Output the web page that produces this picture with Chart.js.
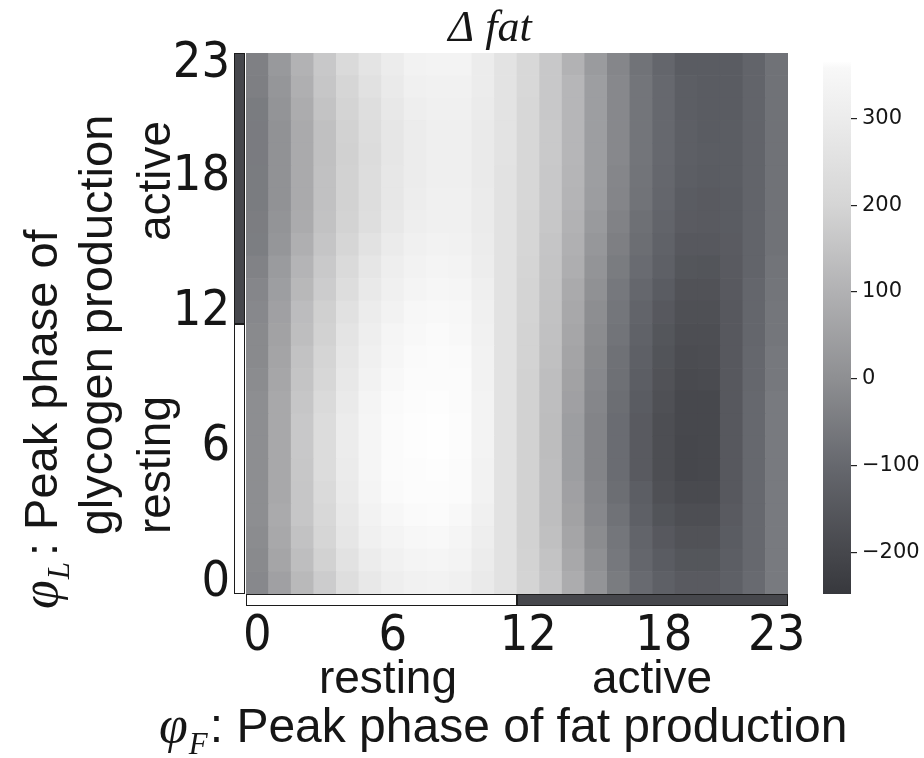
<!DOCTYPE html>
<html>
<head>
<meta charset="utf-8">
<script src="https://cdn.jsdelivr.net/npm/chart.js@4.4.1/dist/chart.umd.min.js"></script>
<style>
  html, body { margin: 0; padding: 0; background: #fff; }
  #wrap { position: relative; width: 924px; height: 758px; }
  #heat { position: absolute; left: 0; top: 0; }
  #bar { position: absolute; left: 800px; top: 0; }
</style>
</head>
<body>
<div id="wrap">
  <canvas id="heat" width="924" height="758"></canvas>
  <canvas id="bar" width="124" height="758"></canvas>
</div>
<script>
// phase hours, used for both axes
var phaseLabels = ['0','1','2','3','4','5','6','7','8','9','10','11','12','13','14','15','16','17','18','19','20','21','22','23'];
var shownTicks = [0, 6, 12, 18, 23];
var colorbarTicks = [-200, -100, 0, 100, 200, 300];
var colorbarMin = -248;
var colorbarMax = 365;

// Δ fat, one array per glycogen phase (φL), columns = fat phase (φF) 0..23
var fatRow0  = [-18, 50, 122, 175, 239, 283, 310, 324, 329, 319, 291, 257, 197, 155, 85, 15, -49, -95, -124, -142, -142, -124, -95, -54];
var fatRow1  = [-13, 65, 136, 192, 257, 300, 324, 339, 343, 334, 300, 257, 195, 150, 74, 3, -59, -106, -136, -155, -155, -130, -100, -54];
var fatRow2  = [-8, 74, 147, 204, 274, 319, 339, 353, 358, 343, 310, 257, 192, 142, 65, -8, -64, -112, -148, -167, -167, -136, -100, -54];
var fatRow3  = [-3, 79, 158, 213, 283, 329, 353, 360, 361, 358, 319, 257, 192, 136, 56, -18, -74, -124, -161, -179, -179, -142, -100, -54];
var fatRow4  = [-3, 74, 158, 222, 291, 339, 360, 363, 363, 361, 329, 257, 192, 136, 50, -23, -85, -130, -173, -191, -191, -148, -100, -54];
var fatRow5  = [-3, 74, 161, 230, 296, 343, 361, 363, 364, 362, 329, 257, 192, 136, 44, -28, -90, -142, -179, -200, -197, -148, -100, -54];
var fatRow6  = [-3, 74, 164, 230, 300, 343, 361, 364, 365, 363, 334, 257, 192, 133, 44, -28, -90, -142, -179, -200, -197, -148, -100, -54];
var fatRow7  = [-3, 74, 164, 230, 300, 343, 361, 364, 365, 363, 334, 257, 192, 133, 44, -28, -90, -142, -179, -197, -197, -148, -100, -54];
var fatRow8  = [-3, 74, 158, 222, 291, 339, 360, 363, 364, 362, 334, 257, 192, 136, 50, -23, -85, -136, -173, -197, -197, -148, -100, -54];
var fatRow9  = [-8, 68, 153, 209, 283, 329, 358, 361, 362, 361, 329, 257, 192, 136, 56, -18, -80, -130, -167, -191, -188, -148, -103, -59];
var fatRow10 = [-13, 62, 147, 200, 274, 319, 348, 360, 361, 360, 329, 257, 195, 142, 62, -13, -77, -124, -161, -185, -182, -148, -103, -59];
var fatRow11 = [-13, 56, 136, 192, 265, 310, 343, 358, 360, 358, 324, 257, 195, 144, 68, -8, -69, -118, -155, -179, -179, -148, -106, -64];
var fatRow12 = [-18, 50, 131, 186, 252, 300, 329, 353, 358, 353, 319, 257, 197, 147, 74, -3, -64, -112, -148, -173, -173, -148, -106, -64];
var fatRow13 = [-23, 44, 119, 175, 235, 287, 319, 339, 348, 343, 314, 257, 197, 150, 79, 6, -59, -103, -136, -167, -167, -145, -106, -67];
var fatRow14 = [-33, 35, 108, 167, 222, 274, 310, 329, 339, 334, 305, 257, 200, 153, 91, 15, -49, -92, -124, -155, -158, -142, -112, -69];
var fatRow15 = [-44, 21, 94, 155, 204, 257, 296, 319, 329, 324, 300, 257, 204, 155, 97, 24, -41, -85, -118, -148, -148, -139, -112, -74];
var fatRow16 = [-46, 15, 82, 147, 195, 239, 283, 310, 319, 319, 296, 257, 204, 161, 103, 32, -33, -80, -112, -139, -142, -136, -112, -74];
var fatRow17 = [-49, 9, 79, 144, 192, 235, 278, 305, 319, 319, 296, 257, 209, 164, 108, 41, -26, -72, -106, -136, -142, -136, -112, -74];
var fatRow18 = [-49, 9, 79, 144, 192, 235, 278, 300, 314, 314, 291, 257, 209, 164, 111, 44, -23, -69, -103, -130, -136, -133, -112, -74];
var fatRow19 = [-51, 9, 79, 142, 189, 230, 274, 300, 314, 314, 291, 261, 209, 167, 114, 44, -18, -67, -100, -127, -133, -133, -112, -74];
var fatRow20 = [-51, 9, 79, 142, 192, 235, 274, 300, 314, 314, 291, 261, 209, 167, 114, 44, -18, -67, -100, -127, -136, -133, -112, -74];
var fatRow21 = [-49, 15, 85, 150, 197, 239, 283, 310, 319, 319, 296, 261, 209, 164, 114, 44, -18, -67, -100, -130, -136, -136, -112, -74];
var fatRow22 = [-41, 21, 94, 158, 204, 252, 291, 319, 324, 324, 300, 261, 213, 164, 114, 44, -18, -67, -100, -130, -136, -136, -112, -74];
var fatRow23 = [-38, 29, 103, 164, 222, 265, 300, 329, 334, 334, 300, 261, 213, 164, 103, 35, -23, -72, -106, -136, -136, -136, -112, -74];

var fatRows = [fatRow0, fatRow1, fatRow2, fatRow3, fatRow4, fatRow5, fatRow6, fatRow7,
               fatRow8, fatRow9, fatRow10, fatRow11, fatRow12, fatRow13, fatRow14, fatRow15,
               fatRow16, fatRow17, fatRow18, fatRow19, fatRow20, fatRow21, fatRow22, fatRow23];

// grey colormap (slightly blue at the dark end)
var cmapStops = [-248, -200, -100, 0, 100, 200, 300, 358, 365];
var cmapRgb = [[55,56,61],[70,71,76],[102,104,110],[142,143,146],[177,177,179],[213,213,213],[236,236,236],[248,248,248],[254,254,254]];

function colorFor(v) {
    if (v <= cmapStops[0]) return 'rgb(' + cmapRgb[0].join(',') + ')';
    for (var i = 1; i < cmapStops.length; i++) {
        if (v <= cmapStops[i]) {
            var t = (v - cmapStops[i - 1]) / (cmapStops[i] - cmapStops[i - 1]);
            var a = cmapRgb[i - 1], b = cmapRgb[i];
            return 'rgb(' + Math.round(a[0] + (b[0] - a[0]) * t) + ',' + Math.round(a[1] + (b[1] - a[1]) * t) + ',' + Math.round(a[2] + (b[2] - a[2]) * t) + ')';
        }
    }
    return 'rgb(' + cmapRgb[cmapRgb.length - 1].join(',') + ')';
}

var SANS = "'Liberation Sans', Arial, sans-serif";
var SERIF = "'Liberation Serif', 'Times New Roman', serif";
var TICKFONT = "'Liberation Sans Narrow', 'DejaVu Sans Condensed', 'Liberation Sans', sans-serif";
var INK = '#161616';

function rotatedText(ctx, text, x, y) {
    ctx.save();
    ctx.translate(x, y);
    ctx.rotate(-Math.PI / 2);
    ctx.fillText(text, 0, 0);
    ctx.restore();
}

// phi with a subscript, then the rest of the label, drawn from (0,0) along the baseline
function phiLabel(ctx, sub, rest, gap, size) {
    ctx.textAlign = 'left';
    ctx.font = 'italic 52px ' + SERIF;
    ctx.fillText('φ', 0, 0);
    var w = ctx.measureText('φ').width + 1;
    ctx.font = 'italic 31px ' + SERIF;
    ctx.fillText(sub, w, 12);
    w += ctx.measureText(sub).width + gap;
    ctx.font = size + 'px ' + SANS;
    ctx.fillText(rest, w, 0);
}

var annotate = {
    id: 'annotate',
    afterDraw: function (chart) {
        var ctx = chart.ctx;
        var a = chart.chartArea;
        var xs = chart.scales.x, ys = chart.scales.y;
        var splitY = Math.round(ys.getPixelForValue(11.5));
        var splitX = Math.round(xs.getPixelForValue(11.5));

        ctx.save();
        ctx.lineWidth = 1;
        ctx.strokeStyle = '#1c1c1c';

        // resting / active strip on the left
        ctx.fillStyle = '#46474c';
        ctx.fillRect(a.left - 12, a.top, 11, splitY - a.top);
        ctx.strokeRect(a.left - 11.5, a.top + 0.5, 10, splitY - a.top - 1);
        ctx.fillStyle = '#ffffff';
        ctx.fillRect(a.left - 12, splitY, 11, a.bottom - splitY);
        ctx.strokeRect(a.left - 11.5, splitY + 0.5, 10, a.bottom - splitY - 1);

        // resting / active strip at the bottom
        ctx.fillStyle = '#ffffff';
        ctx.fillRect(a.left, a.bottom, splitX - a.left, 12);
        ctx.strokeRect(a.left + 0.5, a.bottom + 0.5, splitX - a.left - 1, 11);
        ctx.fillStyle = '#46474c';
        ctx.fillRect(splitX, a.bottom, a.right - splitX, 12);
        ctx.strokeRect(splitX + 0.5, a.bottom + 0.5, a.right - splitX - 1, 11);

        ctx.fillStyle = INK;
        ctx.textBaseline = 'alphabetic';

        // title
        ctx.font = 'italic 44px ' + SERIF;
        ctx.textAlign = 'center';
        ctx.fillText('Δ fat', 490, 41);

        // resting / active words
        ctx.font = '46px ' + SANS;
        ctx.textAlign = 'center';
        rotatedText(ctx, 'active', 170, 181);
        rotatedText(ctx, 'resting', 170, 465);
        ctx.fillText('resting', 388, 693);
        ctx.fillText('active', 652, 693);

        // x axis title
        ctx.save();
        ctx.translate(159, 742);
        phiLabel(ctx, 'F', ': Peak phase of fat production', 2, 48);
        ctx.restore();

        // y axis title, two lines
        ctx.save();
        ctx.translate(57, 609);
        ctx.rotate(-Math.PI / 2);
        phiLabel(ctx, 'L', ': Peak phase of', 6, 47);
        ctx.restore();
        ctx.font = '47px ' + SANS;
        ctx.textAlign = 'center';
        rotatedText(ctx, 'glycogen production', 112, 325);

        ctx.restore();
    }
};

function loadHeatmap() {
    var ctx = document.getElementById('heat').getContext('2d');

    var datasets = fatRows.map(function (row, r) {
        return {
            label: 'φL ' + phaseLabels[r],
            data: row.map(function () { return [r - 0.5, r + 0.5]; }),
            backgroundColor: row.map(colorFor),
            borderWidth: 0,
            barPercentage: 1,
            categoryPercentage: 1,
            grouped: false
        };
    });

    new Chart(ctx, {
        type: 'bar',
        data: { labels: phaseLabels, datasets: datasets },
        options: {
            responsive: false,
            animation: false,
            layout: { padding: { left: 160, right: 136, top: 53, bottom: 0 } },
            plugins: {
                legend: { display: false },
                tooltip: { enabled: false }
            },
            scales: {
                x: {
                    type: 'category',
                    grid: { display: false, drawTicks: false },
                    border: { display: false },
                    ticks: {
                        autoSkip: false,
                        maxRotation: 0,
                        padding: 13,
                        color: INK,
                        font: { family: TICKFONT, size: 50 },
                        callback: function (value, index) {
                            return shownTicks.indexOf(index) >= 0 ? phaseLabels[index] : '';
                        }
                    },
                    afterFit: function (scale) { scale.height = 164; }
                },
                y: {
                    type: 'linear',
                    min: -0.5,
                    max: 23.5,
                    grid: { display: false, drawTicks: false },
                    border: { display: false },
                    ticks: {
                        padding: 16,
                        color: INK,
                        font: { family: TICKFONT, size: 50 },
                        callback: function (value) { return phaseLabels[value]; }
                    },
                    afterBuildTicks: function (scale) {
                        scale.ticks = shownTicks.map(function (v) { return { value: v }; });
                    },
                    afterFit: function (scale) { scale.width = 86; }
                }
            }
        },
        plugins: [annotate]
    });
}

function loadColorbar() {
    var ctx = document.getElementById('bar').getContext('2d');

    function gradientFill(c) {
        var area = c.chart.chartArea;
        if (!area) return '#888';
        var g = c.chart.ctx.createLinearGradient(0, area.bottom, 0, area.top);
        cmapStops.forEach(function (v) {
            g.addColorStop((v - colorbarMin) / (colorbarMax - colorbarMin), colorFor(v));
        });
        return g;
    }

    new Chart(ctx, {
        type: 'bar',
        data: {
            labels: ['Δ fat'],
            datasets: [{
                data: [[colorbarMin, colorbarMax]],
                backgroundColor: gradientFill,
                borderWidth: 0,
                barPercentage: 1,
                categoryPercentage: 1
            }]
        },
        options: {
            responsive: false,
            animation: false,
            layout: { padding: { left: 23, top: 62, right: 0, bottom: 164 } },
            plugins: { legend: { display: false }, tooltip: { enabled: false } },
            scales: {
                x: { display: false },
                y: {
                    position: 'right',
                    min: colorbarMin,
                    max: colorbarMax,
                    grid: { drawOnChartArea: false, drawTicks: true, tickLength: 6, color: '#222', lineWidth: 1.2 },
                    border: { display: false },
                    ticks: {
                        padding: 5,
                        color: INK,
                        font: { family: "'DejaVu Sans', sans-serif", size: 21 },
                        callback: function (v) { return v < 0 ? '\u2212' + Math.abs(v) : String(v); }
                    },
                    afterBuildTicks: function (scale) {
                        scale.ticks = colorbarTicks.map(function (v) { return { value: v }; });
                    },
                    afterFit: function (scale) { scale.width = 73; }
                }
            }
        }
    });
}

loadHeatmap();
loadColorbar();
</script>
</body>
</html>
